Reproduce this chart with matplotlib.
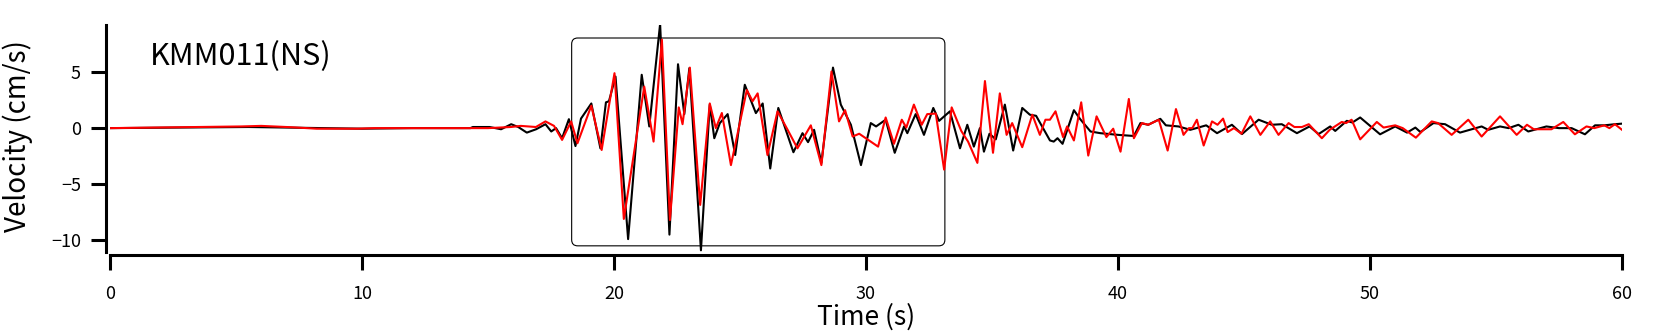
import numpy as np
import matplotlib
matplotlib.use("Agg")
import matplotlib.pyplot as plt
from matplotlib.patches import FancyBboxPatch

plt.rcParams['font.family'] = ['Noto Sans CJK JP', 'DejaVu Sans']

t_obs = [0, 3, 5.5, 7, 8.5, 10, 12, 14.3, 14.4, 15.06, 15.52, 15.92, 16.2, 16.54, 16.91,
         17.28, 17.51, 17.7, 17.94, 18.21, 18.47, 18.69, 19.1, 19.46, 19.68, 19.8, 20.06,
         20.56, 21.1, 21.4, 21.83, 22.2, 22.54, 22.79, 22.99, 23.45, 23.8, 23.98, 24.2,
         24.51, 24.81, 25.19, 25.63, 25.9, 26.2, 26.52, 27.12, 27.48, 27.7, 27.94, 28.23,
         28.69, 29.0, 29.4, 29.8, 30.19, 30.4, 30.78, 31.14, 31.51, 31.64, 31.97, 32.3,
         32.67, 32.9, 33.33, 33.73, 34.02, 34.28, 34.52, 34.68, 34.9, 35.15, 35.51, 35.84,
         36.2, 36.5, 36.75, 37.3, 37.45, 37.6, 37.8, 38.25, 38.5, 38.91, 39.3, 40.0, 40.63,
         40.89, 41.2, 41.68, 41.9, 42.4, 42.87, 43.5, 43.93, 44.52, 44.92, 45.58, 46.1,
         46.5, 47.1, 47.6, 47.96, 48.42, 48.62, 49.08, 49.3, 49.61, 50.4, 51.0, 51.47,
         51.8, 52.0, 52.52, 52.98, 53.57, 54.43, 54.69, 55.16, 55.5, 55.89, 56.28, 57.0,
         57.5, 58.0, 58.53, 58.93, 59.3, 59.72, 60.0]
v_obs = [0, 0.05, 0.1, 0.05, 0, -0.05, 0, 0, 0.1, 0.1, -0.1, 0.35, 0.1, -0.4, -0.1,
         0.35, -0.3, 0.0, -0.9, 0.8, -1.6, 0.85, 2.2, -1.8, 2.3, 2.4, 4.6,
         -9.9, 4.76, 0.15, 9.3, -9.5, 5.7, 1.25, 5.35, -10.9, 2.1, -0.9, 0.45,
         1.25, -2.4, 3.87, 1.34, 2.2, -3.6, 1.8, -2.15, -0.45, -1.25, -0.15, -3.1,
         5.4, 2.1, 0.3, -3.3, 0.45, 0.15, 0.75, -2.2, 0.15, -0.45, 1.25, -0.6,
         1.8, 0.65, 1.5, -1.8, 0.3, -1.65, 0.0, -2.1, -0.5, -1.0, 2.1, -2.0,
         1.8, 1.2, 1.1, -1.1, -1.2, -0.9, -1.4, 1.6, 0.8, -0.3, -0.45, -0.6, -0.7,
         0.45, 0.3, 0.83, 0.25, 0.15, -0.15, 0.25, -0.45, 0.3, -0.53, 0.75, 0.3,
         0.35, -0.45, 0.15, -0.53, 0.15, -0.25, 0.65, 0.5, 0.95, -0.55, 0.15, -0.4,
         0.05, -0.35, 0.45, 0.35, -0.4, 0.15, -0.15, 0.15, 0.0, 0.3, -0.3, 0.15,
         0.0, 0.0, -0.55, 0.25, 0.25, 0.35, 0.4]

# synthetic (red) velocity
t_syn = [0, 2.8, 5.2, 6.0, 7.2, 8.2, 9.8, 10.5, 14, 15.0, 15.9, 16.3, 16.9, 17.28, 17.62,
         17.94, 18.3, 18.55, 19.1, 19.51, 19.8, 20.02, 20.39, 21.2, 21.57, 21.9, 22.22,
         22.57, 22.72, 23.01, 23.42, 23.8, 24.04, 24.28, 24.64, 25.27, 25.5, 25.7, 26.09,
         26.49, 26.89, 27.28, 27.81, 28.23, 28.63, 28.93, 29.17, 29.47, 29.73, 30.48,
         30.78, 31.11, 31.42, 31.6, 31.9, 32.21, 32.43, 32.77, 33.1, 33.4, 33.78, 34.05,
         34.42, 34.72, 35.04, 35.31, 35.58, 35.8, 36.2, 36.6, 36.9, 37.12, 37.3, 37.52,
         37.82, 37.98, 38.25, 38.54, 38.82, 39.15, 39.54, 39.81, 40.1, 40.43, 40.63,
         40.95, 41.2, 41.62, 41.97, 42.3, 42.6, 42.81, 42.95, 43.13, 43.4, 43.73, 43.95,
         44.17, 44.35, 44.6, 44.9, 45.25, 45.65, 46.04, 46.37, 46.77, 47.0, 47.3, 47.57,
         48.09, 48.4, 48.88, 49.05, 49.27, 49.61, 50.27, 50.54, 51.0, 51.3, 51.82, 52.45,
         52.7, 53.24, 53.9, 54.43, 55.16, 55.82, 56.23, 56.5, 57.2, 57.67, 58.13, 58.59,
         58.9, 59.3, 59.5, 59.72, 60.0]
v_syn = [0, 0.08, 0.15, 0.2, 0.08, -0.05, -0.05, 0, 0, 0, 0.1, 0.2, 0.1, 0.6, 0.2,
         -1.05, 0.6, -1.35, 2.0, -1.95, 2.0, 4.9, -8.1, 3.7, -1.2, 7.9, -8.2,
         1.85, 0.35, 5.4, -6.85, 2.2, 0.0, 1.35, -3.3, 3.4, 2.4, 3.1, -2.4,
         1.5, -0.15, -1.8, 0.25, -3.3, 5.05, 0.6, 1.6, -0.75, -0.5, -1.65,
         0.95, -1.4, 0.75, 0.05, 2.1, 0.3, 1.25, 1.3, -3.7, 1.85, -0.25, -1.2,
         -3.1, 4.2, -2.2, 3.1, -0.6, 0.45, -1.7, 1.2, -0.6, 0.75, 0.75, 1.5,
         -0.8, 0.15, -1.1, 2.3, -2.45, 1.05, -0.8, -0.05, -2.1, 2.6, -0.9,
         0.45, 0.3, 0.75, -2.0, 1.7, -0.6, 0.0, 0.0, 0.75, -1.55, 0.6, 0.3,
         0.85, -0.35, 0.0, -0.5, 1.05, -0.6, 0.6, -0.6, 0.45, 0.1, 0.1, 0.35,
         -0.9, -0.15, 0.55, 0.45, 0.75, -1.0, 0.55, 0.05, 0.25, 0.0, -0.85, 0.6,
         0.45, -0.6, 0.75, -0.75, 1.05, -0.6, 0.3, -0.1, -0.1, 0.55, -0.55, 0.15,
         0.0, 0.25, 0.0, 0.35, -0.15]

station = "KMM011(NS)"
x_ticks = [0, 10, 20, 30, 40, 50, 60]
y_ticks = [-10, -5, 0, 5]
win_start, win_end = 18.32, 33.13
win_low, win_high = -10.5, 8.04

fig = plt.figure(figsize=(16.72, 3.33), dpi=100)
ax = fig.add_axes([110/1672, 1 - 252/333, 1512/1672, 227/333])

ax.plot(t_obs, v_obs, color='black', lw=1.5)
ax.plot(t_syn, v_syn, color='red', lw=1.5)

box = FancyBboxPatch((win_start, win_low), win_end - win_start, win_high - win_low,
                     boxstyle="round,pad=0,rounding_size=0.24", mutation_aspect=2.25,
                     fill=False, edgecolor='black', lw=0.8)
ax.add_patch(box)

ax.set_xlim(0, 60)
ax.set_ylim(-11.05, 9.2)
ax.set_xticks(x_ticks)
ax.set_yticks(y_ticks)
ax.set_yticklabels(['\u221210', '\u22125', '0', '5'])

for s in ['top', 'right']:
    ax.spines[s].set_visible(False)
ax.spines['left'].set_linewidth(2.2)
ax.spines['bottom'].set_linewidth(2.2)
ax.spines['left'].set_position(('outward', 3))
ax.spines['bottom'].set_position(('outward', 2))
ax.tick_params(axis='both', direction='out', length=11, width=2.2, labelsize=13)
ax.tick_params(axis='x', pad=11)
ax.tick_params(axis='y', pad=7)

ax.text(0.0265, 0.859, station, transform=ax.transAxes, fontsize=22, va='center', ha='left')
fig.text(18/1672, 1 - 136.5/333, 'Velocity (cm/s)', rotation=90, fontsize=20,
         ha='center', va='center')
fig.text(866/1672, 1 - 317/333, 'Time (s)', fontsize=19, ha='center', va='center')

fig.savefig('out.png', dpi=100)
